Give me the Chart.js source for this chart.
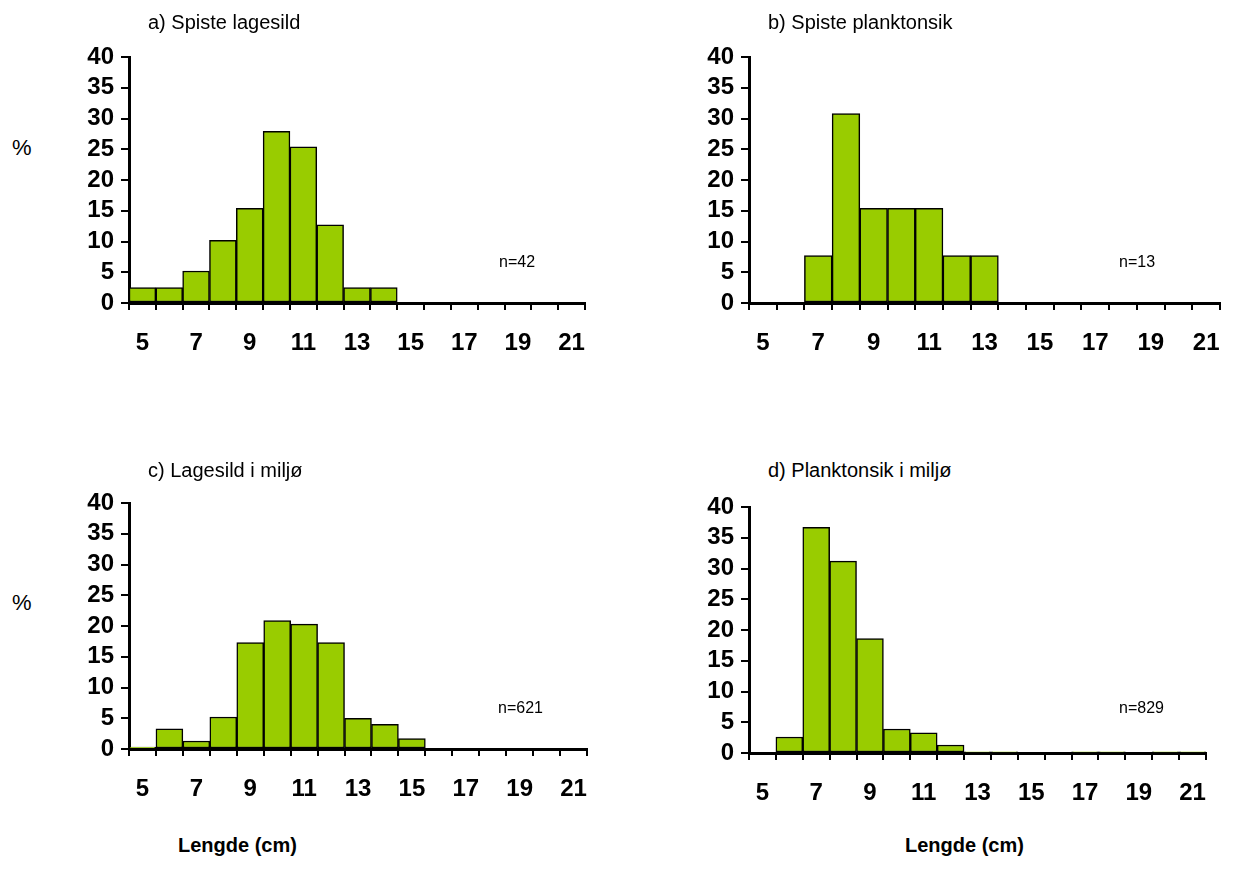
<!DOCTYPE html>
<html>
<head>
<meta charset="utf-8">
<script src="https://cdn.jsdelivr.net/npm/chart.js@4"></script>
<style>
  html, body { margin: 0; padding: 0; background: #fff; }
  body { width: 1239px; height: 885px; position: relative; overflow: hidden; font-family: "Liberation Sans", Arial, sans-serif; color: #000; }
  canvas { position: absolute; }
  .txt { position: absolute; white-space: nowrap; line-height: 1; }
  .title { font-size: 20px; }
  .n { font-size: 16px; }
  .pct { font-size: 22px; }
  .xlab { font-size: 20px; font-weight: bold; }
</style>
</head>
<body>
<canvas id="chartA"></canvas>
<canvas id="chartB"></canvas>
<canvas id="chartC"></canvas>
<canvas id="chartD"></canvas>

<div class="txt title" style="left:148px; top:12px;">a) Spiste lagesild</div>
<div class="txt title" style="left:768px; top:12px;">b) Spiste planktonsik</div>
<div class="txt title" style="left:148px; top:460px;">c) Lagesild i miljø</div>
<div class="txt title" style="left:768px; top:460px;">d) Planktonsik i miljø</div>

<div class="txt n" style="left:499px; top:254px;">n=42</div>
<div class="txt n" style="left:1119px; top:254px;">n=13</div>
<div class="txt n" style="left:498px; top:700px;">n=621</div>
<div class="txt n" style="left:1119px; top:700px;">n=829</div>

<div class="txt pct" style="left:12px; top:137px;">%</div>
<div class="txt pct" style="left:12px; top:592px;">%</div>

<div class="txt xlab" style="left:178px; top:835px;">Lengde (cm)</div>
<div class="txt xlab" style="left:905px; top:835px;">Lengde (cm)</div>

<script>
// lengdegrupper (cm)
const categories = ["5", "6", "7", "8", "9", "10", "11", "12", "13", "14", "15", "16", "17", "18", "19", "20", "21"];

// prosent per lengdegruppe
const spisteLagesild = [2.5, 2.5, 5.2, 10.2, 15.4, 27.9, 25.4, 12.7, 2.5, 2.5, 0, 0, 0, 0, 0, 0, 0];
const spistePlanktonsik = [0, 0, 7.7, 30.8, 15.4, 15.4, 15.4, 7.7, 7.7, 0, 0, 0, 0, 0, 0, 0, 0];
const lagesildMiljo = [0.3, 3.3, 1.3, 5.2, 17.3, 20.9, 20.3, 17.3, 5.0, 4.0, 1.7, 0, 0, 0, 0, 0, 0];
const planktonsikMiljo = [0, 2.6, 36.7, 31.2, 18.6, 3.9, 3.3, 1.3, 0.2, 0.2, 0, 0, 0.2, 0.2, 0, 0.2, 0.2];

const yMin = 0;
const yMax = 40;
const yStep = 5;

const barColor = "#99cc00";
const tickFont = { family: "'Liberation Sans', Arial, sans-serif", size: 24, weight: "bold", lineHeight: 1 };

// plot area for each panel (pixels on the page)
function drawPanel(id, values, area) {
  const padLeft = 80, padTop = 25, padRight = 30, padBottom = 66;
  const canvas = document.getElementById(id);
  canvas.width = area.x1 - area.x0 + padLeft + padRight;
  canvas.height = area.y1 - area.y0 + padTop + padBottom;
  canvas.style.left = (area.x0 - padLeft) + "px";
  canvas.style.top = (area.y0 - padTop) + "px";

  new Chart(canvas, {
    type: "bar",
    data: {
      labels: categories,
      datasets: [
        {
          data: values,
          backgroundColor: barColor,
          borderColor: "#000",
          borderWidth: 1.5,
          borderSkipped: false,
          categoryPercentage: 1,
          barPercentage: 1,
        },
      ],
    },
    options: {
      responsive: false,
      animation: false,
      layout: { padding: { top: padTop, right: padRight, left: 0, bottom: 0 } },
      plugins: {
        legend: { display: false },
        tooltip: { enabled: false },
      },
      scales: {
        x: {
          offset: true,
          grid: {
            offset: true,
            drawOnChartArea: false,
            drawTicks: true,
            tickLength: 7,
            color: "#000",
            lineWidth: 2,
          },
          border: { display: true, color: "#000", width: 3 },
          ticks: {
            autoSkip: false,
            maxRotation: 0,
            color: "#000",
            font: tickFont,
            padding: 21,
            callback: (v, i) => (i % 2 === 0 ? categories[i] : ""),
          },
          afterFit: (scale) => { scale.height = padBottom; },
        },
        y: {
          min: yMin,
          max: yMax,
          grid: {
            drawOnChartArea: false,
            drawTicks: true,
            tickLength: 8,
            color: "#000",
            lineWidth: 2,
          },
          border: { display: true, color: "#000", width: 3 },
          ticks: {
            stepSize: yStep,
            autoSkip: false,
            color: "#000",
            font: tickFont,
            padding: 7,
          },
          afterFit: (scale) => { scale.width = padLeft; },
        },
      },
    },
  });
}

drawPanel("chartA", spisteLagesild, { x0: 129, x1: 585, y0: 57, y1: 303 });
drawPanel("chartB", spistePlanktonsik, { x0: 749, x1: 1220, y0: 57, y1: 303 });
drawPanel("chartC", lagesildMiljo, { x0: 129, x1: 587, y0: 503, y1: 749 });
drawPanel("chartD", planktonsikMiljo, { x0: 749, x1: 1206, y0: 507, y1: 753 });
</script>
</body>
</html>
